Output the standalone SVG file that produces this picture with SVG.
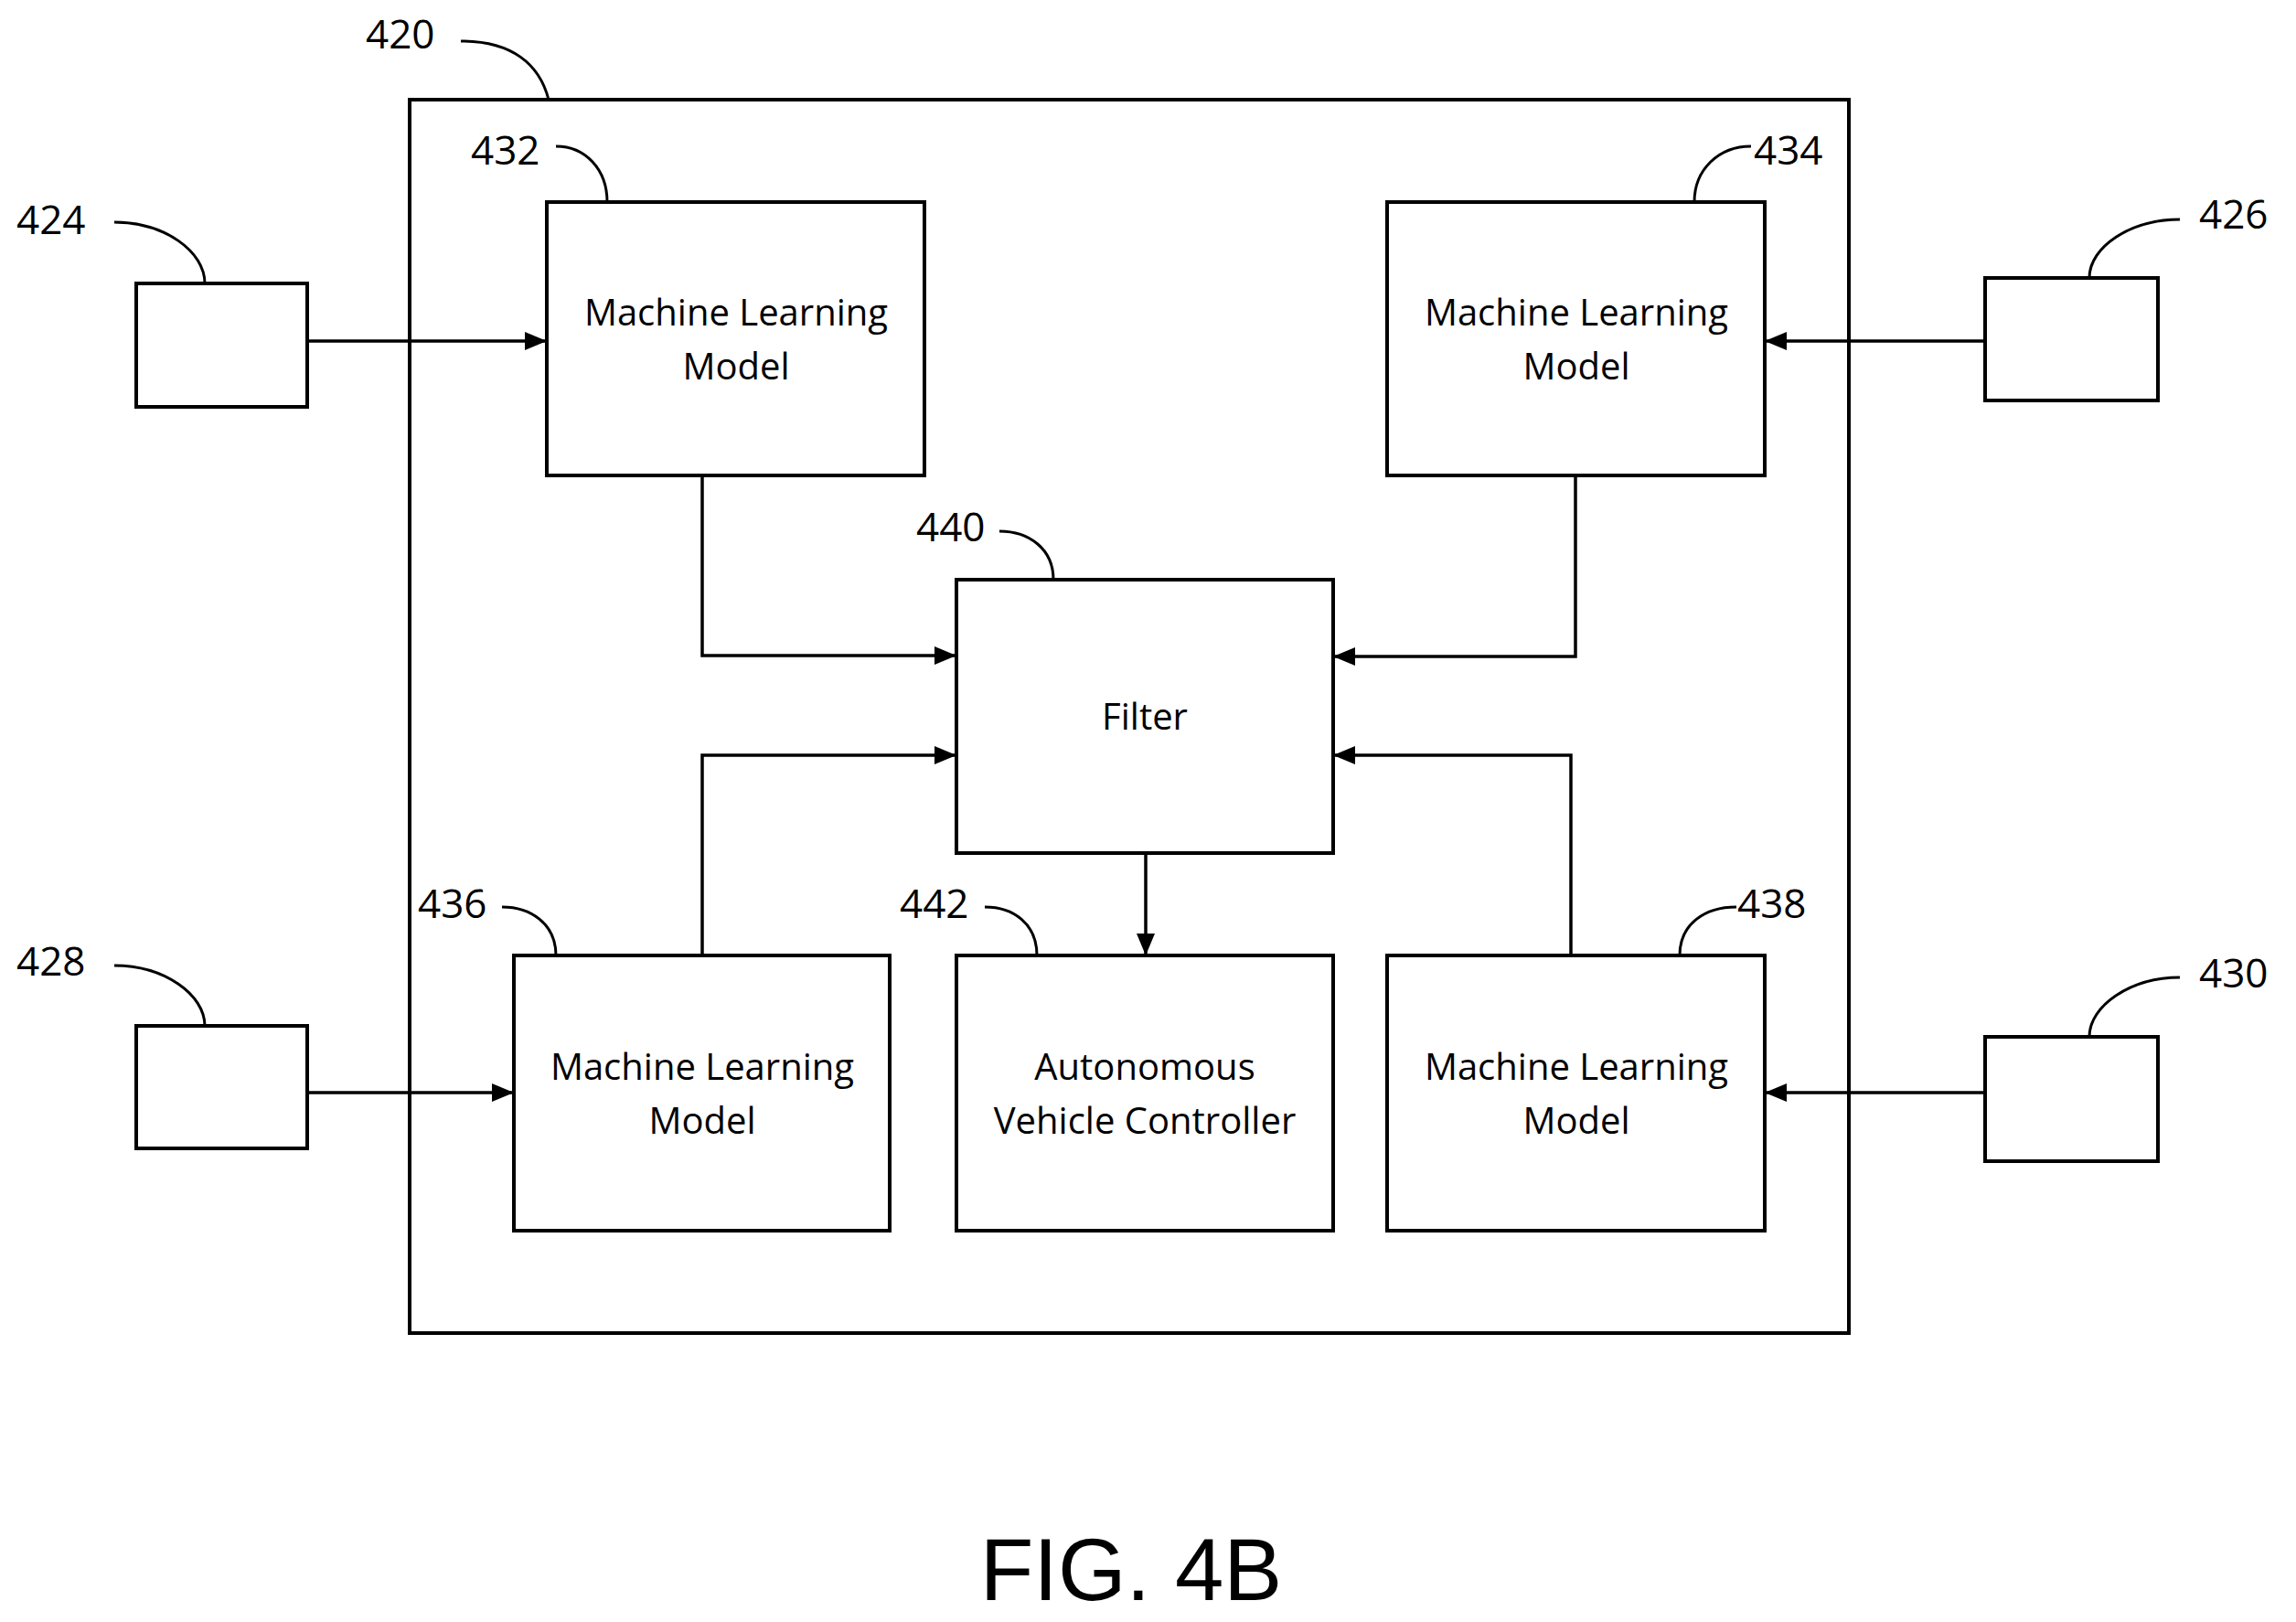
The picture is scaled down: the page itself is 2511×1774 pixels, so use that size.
<svg xmlns="http://www.w3.org/2000/svg" width="2511" height="1774" viewBox="0 0 2511 1774">
<style>
.b{fill:#fff;stroke:#000;stroke-width:4}
.t{font-family:"Open Sans",sans-serif;font-size:40px;text-anchor:middle}
.n{font-family:"Open Sans",sans-serif;font-size:44px}
.l{fill:none;stroke:#000;stroke-width:3}
.c{fill:none;stroke:#000;stroke-width:3.5}
</style>
<defs><marker id="a" markerWidth="10" markerHeight="8" refX="10" refY="4" orient="auto" markerUnits="userSpaceOnUse" viewBox="0 0 10 8"><path d="M0,0L10,4L0,8z"/></marker>
<marker id="A" viewBox="0 0 24 20" refX="24" refY="10" markerWidth="24" markerHeight="20" orient="auto" markerUnits="userSpaceOnUse"><path d="M0,0L24,10L0,20z"/></marker></defs>
<rect width="2511" height="1774" fill="#fff"/>
<g id="n420"><rect class="b" x="448" y="109" width="1574" height="1349"/><text class="n" x="400" y="53">420</text><path class="l" d="M504,45C560,45 590,70 600,109"/></g>
<g id="n432"><rect class="b" x="598" y="221" width="413" height="299"/><text class="t" x="805" y="356">Machine Learning</text><text class="t" x="805" y="415">Model</text><text class="n" x="515" y="180">432</text><path class="l" d="M608,160C640,160 664,185 664,221"/></g>
<g id="n434"><rect class="b" x="1517" y="221" width="413" height="299"/><text class="t" x="1724" y="356">Machine Learning</text><text class="t" x="1724" y="415">Model</text><text class="n" x="1918" y="180">434</text><path class="l" d="M1915,160C1880,160 1853,185 1853,221"/></g>
<g id="n440"><rect class="b" x="1046" y="634" width="412" height="299"/><text class="t" x="1252" y="798">Filter</text><text class="n" x="1002" y="592">440</text><path class="l" d="M1093,581C1125,581 1152,600 1152,634"/></g>
<g id="n436"><rect class="b" x="562" y="1045" width="411" height="301"/><text class="t" x="768" y="1181">Machine Learning</text><text class="t" x="768" y="1240">Model</text><text class="n" x="457" y="1004">436</text><path class="l" d="M549,992C580,992 608,1010 608,1045"/></g>
<g id="n442"><rect class="b" x="1046" y="1045" width="412" height="301"/><text class="t" x="1252" y="1181">Autonomous</text><text class="t" x="1252" y="1240">Vehicle Controller</text><text class="n" x="984" y="1004">442</text><path class="l" d="M1077,992C1108,992 1134,1010 1134,1045"/></g>
<g id="n438"><rect class="b" x="1517" y="1045" width="413" height="301"/><text class="t" x="1724" y="1181">Machine Learning</text><text class="t" x="1724" y="1240">Model</text><text class="n" x="1900" y="1004">438</text><path class="l" d="M1899,992C1865,992 1837,1010 1837,1045"/></g>
<g id="n424"><rect class="b" x="149" y="310" width="187" height="135"/><text class="n" x="18" y="256">424</text><path class="l" d="M125,243C180,243 224,275 224,310"/></g>
<g id="n426"><rect class="b" x="2171" y="304" width="189" height="134"/><text class="n" x="2405" y="250">426</text><path class="l" d="M2384,240C2330,240 2285,270 2285,304"/></g>
<g id="n428"><rect class="b" x="149" y="1122" width="187" height="134"/><text class="n" x="18" y="1067">428</text><path class="l" d="M125,1056C180,1056 224,1088 224,1122"/></g>
<g id="n430"><rect class="b" x="2171" y="1134" width="189" height="136"/><text class="n" x="2405" y="1080">430</text><path class="l" d="M2384,1069C2330,1069 2285,1100 2285,1134"/></g>
<text x="1237" y="1750" font-family="Liberation Sans,sans-serif" font-size="96" text-anchor="middle">FIG. 4B</text>
<g id="connectors" class="c">
<path class="c" d="M336,373H598" marker-end="url(#A)"/>
<path class="c" d="M2171,373H1930" marker-end="url(#A)"/>
<path class="c" d="M336,1195H562" marker-end="url(#A)"/>
<path class="c" d="M2171,1195H1930" marker-end="url(#A)"/>
<path class="c" d="M768,520V717H1046" marker-end="url(#A)"/>
<path class="c" d="M1723,520V718H1458" marker-end="url(#A)"/>
<path class="c" d="M768,1045V826H1046" marker-end="url(#A)"/>
<path class="c" d="M1718,1045V826H1458" marker-end="url(#A)"/>
<path class="c" d="M1253,933V1045" marker-end="url(#A)"/>
</g>
</svg>
